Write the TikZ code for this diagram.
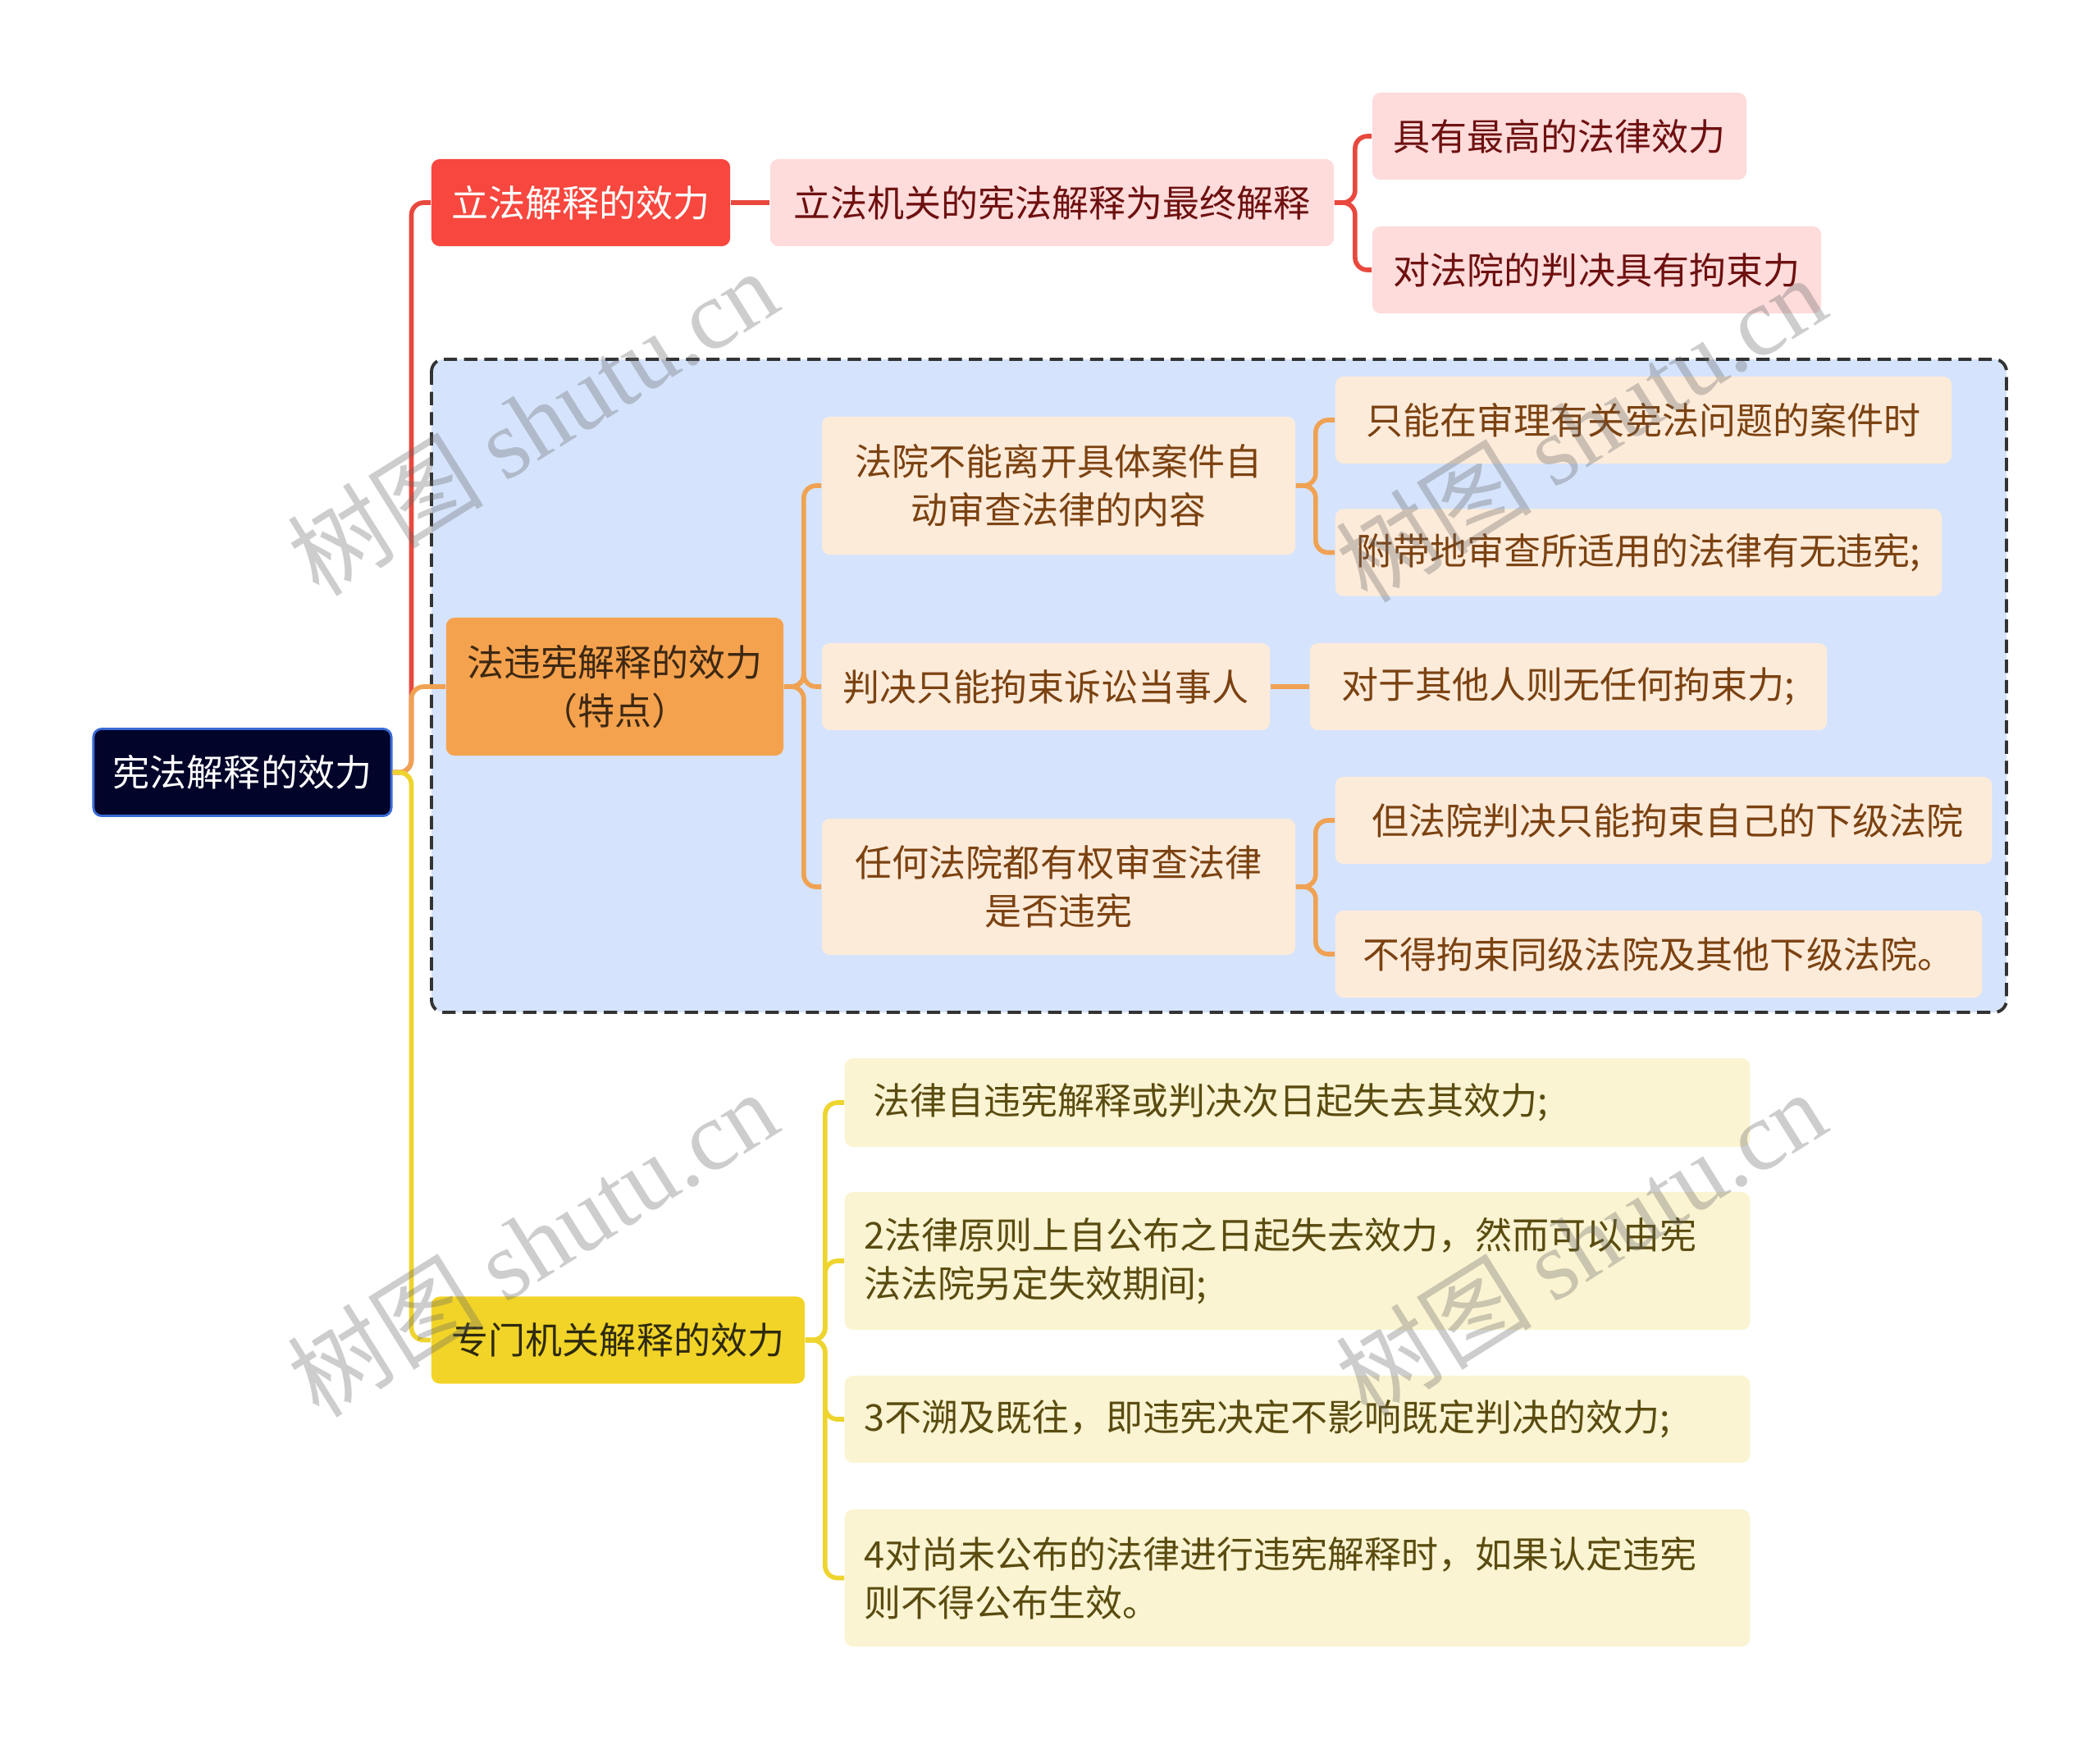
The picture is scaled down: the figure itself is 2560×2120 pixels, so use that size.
\documentclass[tikz,border=0pt]{standalone}
\usepackage{fontspec}
\setmainfont{Noto Sans CJK SC}
\newfontfamily\wmlatin{Liberation Serif}
\usetikzlibrary{positioning}
\definecolor{RootNavy}{HTML}{03042A}
\definecolor{RootBlue}{HTML}{3A6BD6}
\definecolor{RedMain}{HTML}{F7473E}
\definecolor{RedSoft}{HTML}{FDDCDB}
\definecolor{RedInk}{HTML}{6E1010}
\definecolor{RedLine}{HTML}{E8483E}
\definecolor{OrgMain}{HTML}{F5A24E}
\definecolor{OrgSoft}{HTML}{FDEBDA}
\definecolor{OrgDark}{HTML}{3D2812}
\definecolor{OrgInk}{HTML}{7B4211}
\definecolor{OrgLine}{HTML}{F0A253}
\definecolor{YelMain}{HTML}{F2D428}
\definecolor{YelSoft}{HTML}{FBF4D2}
\definecolor{YelDark}{HTML}{2E2A0E}
\definecolor{YelInk}{HTML}{5A4C10}
\definecolor{YelLine}{HTML}{EED42E}
\definecolor{GroupFill}{HTML}{D5E4FC}
\definecolor{GroupLine}{HTML}{333333}
\tikzset{
  box/.style={
    rounded corners=0.1cm, inner sep=0pt, minimum height=1.06cm,
    align=center, font=\fontsize{12.8}{16.7}\selectfont
  },
  rootbox/.style={box, fill=RootNavy, draw=RootBlue, line width=0.8pt, text=white},
  redmain/.style={box, fill=RedMain, text=white},
  redsub/.style={box, fill=RedSoft, text=RedInk},
  orgmain/.style={box, fill=OrgMain, text=OrgDark, minimum height=1.68cm},
  orgsub/.style={box, fill=OrgSoft, text=OrgInk},
  yelmain/.style={box, fill=YelMain, text=YelDark},
  yelsub/.style={box, fill=YelSoft, text=YelInk, align=left,
    text width=10.55cm, inner xsep=0.24cm, anchor=west},
  groupbox/.style={rounded corners=0.15cm, fill=GroupFill, draw=GroupLine,
    dash pattern=on 4.6pt off 2.4pt, line width=1.1pt},
  redline/.style={draw=RedLine, line width=1.6pt, rounded corners=0.15cm},
  orgline/.style={draw=OrgLine, line width=1.6pt, rounded corners=0.15cm},
  yelline/.style={draw=YelLine, line width=1.6pt, rounded corners=0.15cm},
  watermark/.style={rotate=32, text=black!60, opacity=0.33,
    font=\fontsize{34}{34}\selectfont}
}

\begin{document}
\begin{tikzpicture}[x=0.01cm,y=-0.01cm]
  \useasboundingbox (0,0) rectangle (2560,2120);
  % group frame
  \draw[groupbox] (526,438) rectangle (2446,1234);
  % root and main topics
  \node[rootbox, minimum width=3.63cm] (root) at (295.5,941.5) {宪法解释的效力};
  \node[redmain, minimum width=3.64cm] (lifa) at (708,247) {立法解释的效力};
  \node[orgmain, minimum width=4.11cm] (weixian) at (749.5,837) {法违宪解释的效力\\（特点）};
  \node[yelmain, minimum width=4.55cm] (zhuanmen) at (753.5,1633.5) {专门机关解释的效力};
  % red branch
  \node[redsub, minimum width=6.87cm] (zuizhong) at (1282.5,247) {立法机关的宪法解释为最终解释};
  \node[redsub, minimum width=4.56cm] (zuigao) at (1901,166) {具有最高的法律效力};
  \node[redsub, minimum width=5.47cm] (jushu) at (1946.5,329) {对法院的判决具有拘束力};
  % orange branch
  \node[orgsub, minimum width=5.77cm, minimum height=1.68cm] (bucha) at (1290.5,592) {法院不能离开具体案件自\\动审查法律的内容};
  \node[orgsub, minimum width=5.46cm] (dangshi) at (1275,837) {判决只能拘束诉讼当事人};
  \node[orgsub, minimum width=5.77cm, minimum height=1.66cm] (renhe) at (1290.5,1081) {任何法院都有权审查法律\\是否违宪};
  \node[orgsub, minimum width=7.51cm] (anjian) at (2003.5,512) {只能在审理有关宪法问题的案件时};
  \node[orgsub, minimum width=7.39cm] (fudai) at (1997.5,673.5) {附带地审查所适用的法律有无违宪;};
  \node[orgsub, minimum width=6.30cm] (qita) at (1912,837) {对于其他人则无任何拘束力;};
  \node[orgsub, minimum width=8.00cm] (xiaji) at (2028,1000) {\hspace{0.1cm}但法院判决只能拘束自己的下级法院};
  \node[orgsub, minimum width=7.88cm] (tongji) at (2022,1163) {不得拘束同级法院及其他下级法院。};
  % yellow branch
  \node[yelsub, minimum height=1.08cm] (ciri) at (1029,1344) {\hspace{0.11cm}法律自违宪解释或判决次日起失去其效力;};
  \node[yelsub, minimum height=1.68cm] (gongbu) at (1029,1537) {2法律原则上自公布之日起失去效力，然而可以由宪\\法法院另定失效期间;};
  \node[yelsub] (jiwang) at (1029,1730) {3不溯及既往，即违宪决定不影响既定判决的效力;};
  \node[yelsub, minimum height=1.67cm] (shengxiao) at (1029,1923.5) {4对尚未公布的法律进行违宪解释时，如果认定违宪\\则不得公布生效。};
  % connectors
  \draw[redline] (root.east) -- ++(23,0) |- (lifa.west);
  \draw[orgline] (root.east) -- ++(23,0) |- (weixian.west);
  \draw[yelline] (root.east) -- ++(23,0) |- (zhuanmen.west);
  \draw[redline] (lifa.east) -- (zuizhong.west);
  \foreach \leaf in {zuigao,jushu}
    \draw[redline] (zuizhong.east) -- ++(25,0) |- (\leaf.west);
  \foreach \leaf in {bucha,dangshi,renhe}
    \draw[orgline] (weixian.east) -- ++(24,0) |- (\leaf.west);
  \foreach \leaf in {anjian,fudai}
    \draw[orgline] (bucha.east) -- ++(24,0) |- (\leaf.west);
  \draw[orgline] (dangshi.east) -- (qita.west);
  \foreach \leaf in {xiaji,tongji}
    \draw[orgline] (renhe.east) -- ++(24,0) |- (\leaf.west);
  \foreach \leaf in {ciri,gongbu,jiwang,shengxiao}
    \draw[yelline] (zhuanmen.east) -- ++(24,0) |- (\leaf.west);
  % watermarks
  \foreach \wx/\wy [count=\i] in {649/514,1927/522,649/1515,1927/1515}
    \node[watermark] (mark\i) at (\wx,\wy) {树图 {\wmlatin shutu.cn}};
\end{tikzpicture}
\end{document}
